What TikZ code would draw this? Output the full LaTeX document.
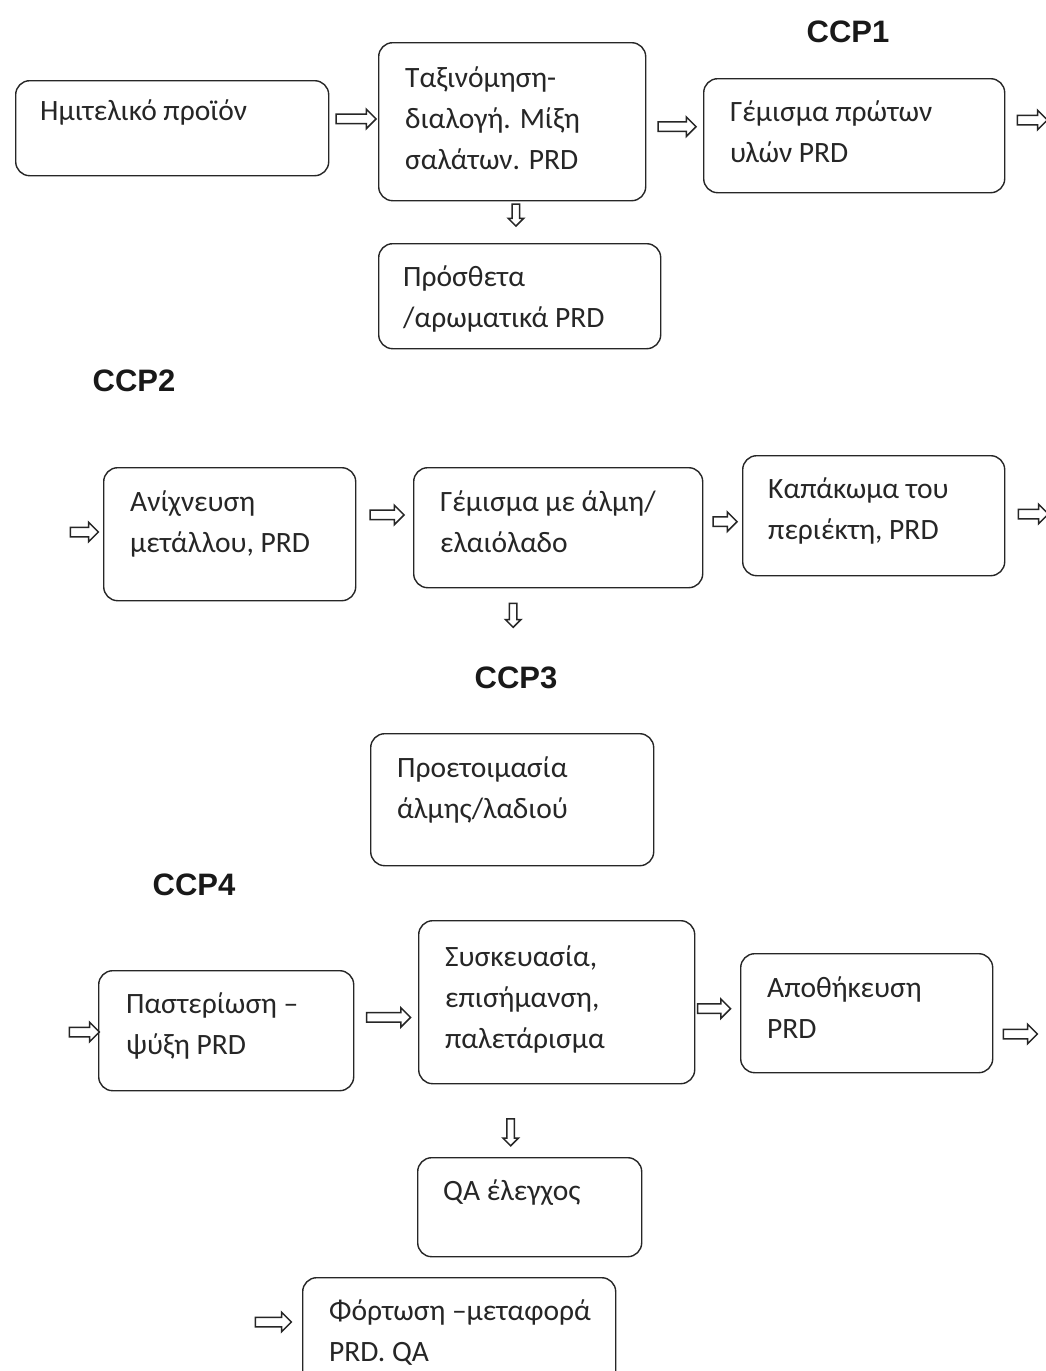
\documentclass[tikz,border=0pt]{standalone}
\usepackage{fontspec}
\setmainfont{Carlito}
\newfontfamily\hdrfont{Liberation Sans}
\usetikzlibrary{shapes.arrows,calc}
\begin{document}
\begin{tikzpicture}[x=1pt,y=-1pt,
  stepbox/.style={draw=black!85,line width=1.4pt,rounded corners=14pt,anchor=north west,inner sep=0pt},
  % text nodes are placed at the baseline of their last line
  txt/.style={anchor=base west,align=left,inner sep=0pt,font=\fontsize{29.5}{41}\selectfont,text=black!85},
  hdr/.style={font=\hdrfont\bfseries\fontsize{31}{34}\selectfont,inner sep=0pt,text=black!90},
  rarr/.style={single arrow,draw=black!85,line width=1.5pt,fill=white,inner sep=4pt,
     single arrow head extend=5pt,minimum height=#1,anchor=center},
  darr/.style={single arrow,draw=black!85,line width=1.5pt,fill=white,inner sep=3pt,
     single arrow head extend=4pt,minimum height=#1,shape border rotate=270,anchor=center}
]
\useasboundingbox[fill=white] (0,0) rectangle (1046,1371);

% headers
\node[hdr] (h1) at (848,32) {CCP1};
\node[hdr] (h2) at (134,381) {CCP2};
\node[hdr] (h3) at (516,678) {CCP3};
\node[hdr] (h4) at (194,885) {CCP4};

% row 1
\node[stepbox,minimum width=313pt,minimum height=95pt] (b1) at (15,80) {};
\node[txt] (t1) at (40,120) {Ημιτελικό προϊόν};
\node[stepbox,minimum width=267pt,minimum height=158pt] (b2) at (378,42) {};
\node[txt] (t2) at (405,169) {Ταξινόμηση-\\διαλογή.  Μίξη\\σαλάτων. PRD};
\node[stepbox,minimum width=301pt,minimum height=114pt] (b3) at (703,78) {};
\node[txt] (t3) at (730,162) {Γέμισμα πρώτων\\υλών  PRD};
\node[stepbox,minimum width=282pt,minimum height=105pt] (b4) at (378,243) {};
\node[txt] (t4) at (403,327) {Πρόσθετα\\/αρωματικά PRD};

\node[rarr=40pt] (a1) at ($(b1.east)!0.5!(b2.west)+(0,-6)$) {};
\node[rarr=38pt] (a2) at ($(b2.east)!0.5!(b3.west)+(0,-2)$) {};
\node[rarr=30pt] (a3) at (1030,120) {};
\node[darr=22pt] (a4) at ($(b2.south)!0.5!(b4.north)+(0,-9)$) {};

% row 2
\node[rarr=28pt] (a5) at (82,532) {};
\node[stepbox,minimum width=252pt,minimum height=133pt] (b5) at (103,467) {};
\node[txt] (t5) at (130,552) {Ανίχνευση\\μετάλλου, PRD};
\node[stepbox,minimum width=289pt,minimum height=120pt] (b6) at (413,467) {};
\node[txt] (t6) at (440,552) {Γέμισμα με άλμη/\\ελαιόλαδο};
\node[stepbox,minimum width=262pt,minimum height=120pt] (b7) at (742,455) {};
\node[txt] (t7) at (768,539) {Καπάκωμα του\\περιέκτη, PRD};
\node[rarr=34pt] (a6) at ($(b5.east)!0.5!(b6.west)+(0,-16)$) {};
\node[rarr=24pt] (a7) at ($(b6.east)!0.5!(b7.west)$) {};
\node[rarr=30pt] (a8) at (1031,514) {};
\node[darr=24pt] (a9) at ($(b6.south)+(-45,25)$) {};

% preparation box
\node[stepbox,minimum width=283pt,minimum height=132pt] (b8) at (370,733) {};
\node[txt] (t8) at (397,818) {Προετοιμασία\\άλμης/λαδιού};

% row 3
\node[rarr=30pt] (a10) at (82,1032) {};
\node[stepbox,minimum width=255pt,minimum height=120pt] (b9) at (98,970) {};
\node[txt] (t9) at (126,1054) {Παστερίωση –\\ψύξη PRD};
\node[stepbox,minimum width=276pt,minimum height=163pt] (b10) at (418,920) {};
\node[txt] (t10) at (445,1048) {Συσκευασία,\\επισήμανση,\\παλετάρισμα};
\node[stepbox,minimum width=252pt,minimum height=119pt] (b11) at (740,953) {};
\node[txt] (t11) at (767,1038) {Αποθήκευση\\PRD};
\node[rarr=44pt] (a11) at ($(b9.east)!0.5!(b10.west)+(0,1)$) {};
\node[rarr=33pt] (a12) at ($(b10.east)!0.5!(b11.west)+(-6,1)$) {};
\node[rarr=34pt] (a13) at (1018,1034) {};
\node[darr=27pt] (a14) at ($(b10.south)+(-46,46)$) {};

% quality control and dispatch
\node[stepbox,minimum width=224pt,minimum height=99pt] (b12) at (417,1157) {};
\node[txt] (t12) at (443,1200) {QA έλεγχος};
\node[rarr=36pt] (a15) at (271,1322) {};
\node[stepbox,minimum width=313pt,minimum height=130pt] (b13) at (302,1277) {};
\node[txt] (t13) at (329,1361) {Φόρτωση –μεταφορά\\PRD. QA};
\end{tikzpicture}
\end{document}
